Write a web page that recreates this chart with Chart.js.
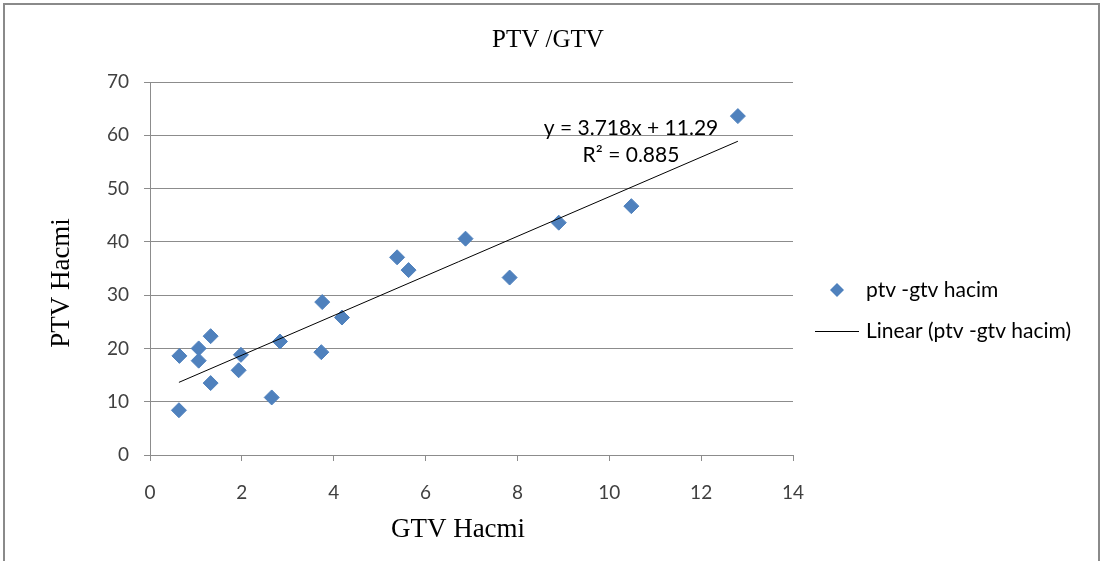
<!DOCTYPE html>
<html>
<head>
<meta charset="utf-8">
<title>PTV /GTV</title>
<script src="https://cdn.jsdelivr.net/npm/chart.js@4.4.0/dist/chart.umd.min.js"></script>
<style>
  html, body { margin: 0; padding: 0; background: #fff; }
</style>
</head>
<body>
<canvas id="chart" width="1101" height="561"></canvas>

<script>
// GTV volume (x) and PTV volume (y) per patient
const gtv = [0.64, 0.63, 1.06, 1.06, 1.32, 1.32, 1.93, 1.98, 2.65, 2.83, 3.73, 3.75, 4.18, 5.38, 5.63, 6.87, 7.83, 8.90, 10.48, 12.80]
const ptv = [18.6, 8.4, 20.0, 17.7, 22.3, 13.5, 15.9, 18.8, 10.8, 21.3, 19.3, 28.7, 25.8, 37.1, 34.7, 40.6, 33.3, 43.6, 46.7, 63.6]

// trend line as printed on the chart
const slope = 3.718
const intercept = 11.29
const equationLines = ["y = 3.718x + 11.29", "R\u00B2 = 0.885"]

const xTicks = [0, 2, 4, 6, 8, 10, 12, 14]
const yTicks = [0, 10, 20, 30, 40, 50, 60, 70]

const seriesName = "ptv -gtv hacim"
const trendName = "Linear (ptv -gtv hacim)"

const blue = '#4f81bd'
const gray = '#8c8c8c'
const sans = 'Lato'
const serif = 'Liberation Serif'

const points = gtv.map((x, i) => ({x: x, y: ptv[i]}))
const xMin = Math.min(...gtv)
const xMax = Math.max(...gtv)
const trend = [xMin, xMax].map(x => ({x: x, y: slope * x + intercept}))

// titles, equation, legend and the outer frame
const decorations = {
    id: 'decorations',
    afterDraw(chart) {
        const c = chart.ctx
        c.save()

        c.strokeStyle = '#8a8a8a'
        c.lineWidth = 2
        c.strokeRect(4, 4, 1095, 600)

        c.fillStyle = '#000'
        c.textAlign = 'center'
        c.textBaseline = 'middle'

        c.font = '25px "' + serif + '"'
        c.fillText('PTV /GTV', 548, 40)

        c.font = '27px "' + serif + '"'
        c.fillText('GTV Hacmi', 458, 530)
        c.save()
        c.translate(62, 283)
        c.rotate(-Math.PI / 2)
        c.fillText('PTV Hacmi', 0, 0)
        c.restore()

        c.font = '21px ' + sans
        c.fillText(equationLines[0], 631, 128)
        c.fillText(equationLines[1], 631, 155)

        // legend
        c.textAlign = 'left'
        c.fillStyle = blue
        c.beginPath()
        c.moveTo(837 - 7, 290)
        c.lineTo(837, 290 - 7)
        c.lineTo(837 + 7, 290)
        c.lineTo(837, 290 + 7)
        c.closePath()
        c.fill()
        c.fillStyle = '#000'
        c.fillText(seriesName, 866, 290)

        c.strokeStyle = '#000'
        c.lineWidth = 1
        c.beginPath()
        c.moveTo(815, 331.5)
        c.lineTo(859, 331.5)
        c.stroke()
        c.fillText(trendName, 866, 331)

        c.restore()
    }
}

const ctx = document.getElementById('chart')

new Chart(ctx, {
    type: 'scatter',
    data: {
        datasets: [
            {
                type: 'line',
                label: trendName,
                data: trend,
                borderColor: '#000',
                borderWidth: 1,
                pointRadius: 0,
                fill: false,
                order: 0
            },
            {
                label: seriesName,
                data: points,
                pointStyle: 'rectRot',
                pointRadius: 7.5,
                backgroundColor: blue,
                borderColor: blue,
                borderWidth: 1,
                order: 1
            }
        ]
    },
    options: {
        responsive: false,
        animation: false,
        layout: {padding: {top: 82, right: 308, bottom: 0, left: 0}},
        plugins: {
            legend: {display: false},
            tooltip: {enabled: false}
        },
        scales: {
            x: {
                type: 'linear',
                min: 0,
                max: 14,
                afterBuildTicks: s => { s.ticks = xTicks.map(v => ({value: v})) },
                afterFit: s => { s.height = 106 },
                ticks: {padding: 20, color: '#404040', font: {family: sans, size: 19}},
                grid: {drawOnChartArea: false, color: gray, tickLength: 6},
                border: {color: gray}
            },
            y: {
                min: 0,
                max: 70,
                afterBuildTicks: s => { s.ticks = yTicks.map(v => ({value: v})) },
                afterFit: s => { s.width = 150 },
                ticks: {padding: 15, color: '#404040', font: {family: sans, size: 19}},
                grid: {color: gray, tickLength: 6},
                border: {color: gray}
            }
        }
    },
    plugins: [decorations]
})
</script>
</body>
</html>
